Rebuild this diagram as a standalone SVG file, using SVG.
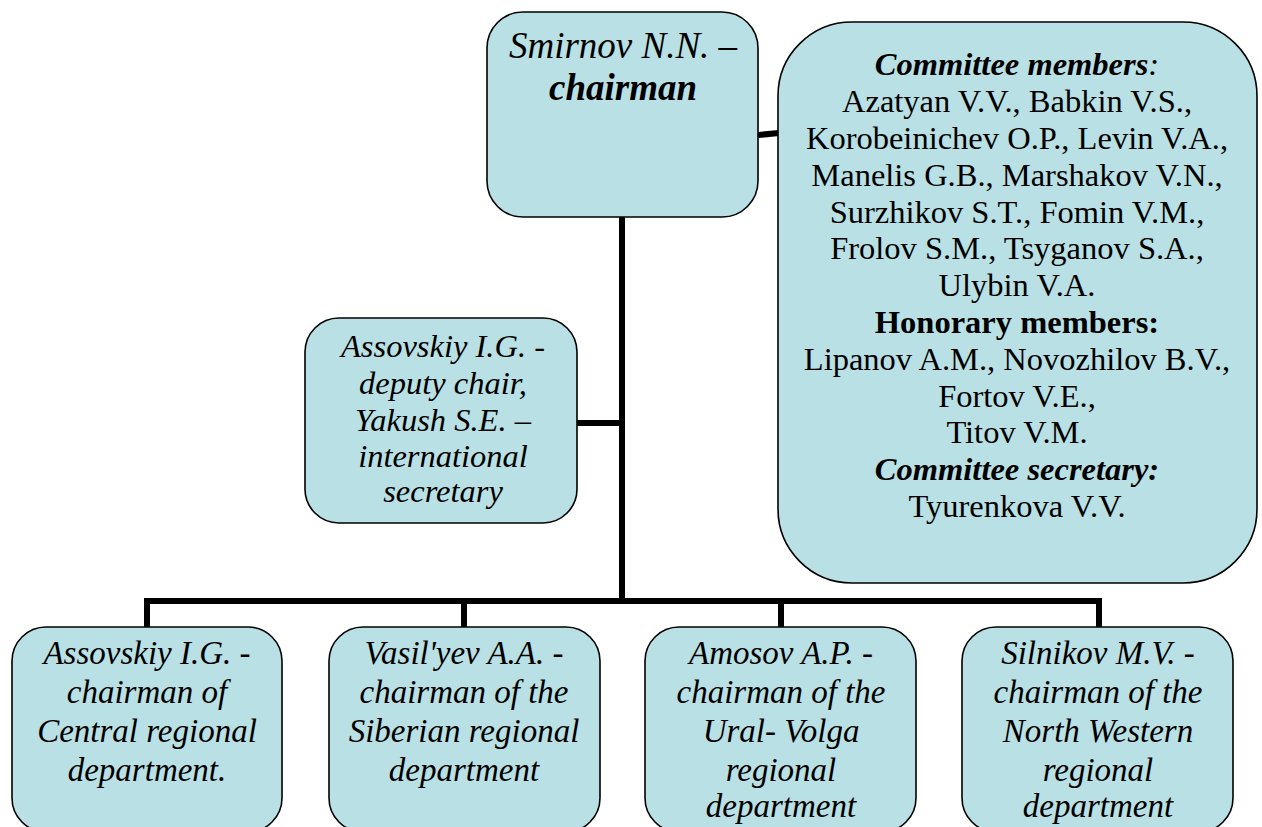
<svg xmlns="http://www.w3.org/2000/svg" width="1262" height="827" viewBox="0 0 1262 827">
<style>
.box{fill:#b9e0e4;stroke:#000;stroke-width:1.6}
.t{font-family:"Liberation Serif","Times New Roman",serif;fill:#000;text-anchor:middle}
.i{font-style:italic}
.b{font-weight:bold}
.c{stroke:#000;stroke-width:6;fill:none}
</style>
<rect width="1262" height="827" fill="#fff"/>
<g id="connectors">
<line class="c" x1="622" y1="216" x2="622" y2="604"/>
<line class="c" x1="577" y1="423" x2="622" y2="423"/>
<line class="c" x1="758" y1="135" x2="779" y2="133"/>
<polyline class="c" points="147,627 147,601 1099,601 1099,627"/>
<line class="c" x1="464" y1="601" x2="464" y2="627"/>
<line class="c" x1="781" y1="601" x2="781" y2="627"/>
</g>
<g id="chairman">
<rect class="box" x="487" y="12" width="271" height="205" rx="36"/>
<text class="t i" font-size="37" x="623" y="58">Smirnov N.N. –</text>
<text class="t i b" font-size="37" x="623" y="100">chairman</text>
</g>
<g id="committee">
<rect class="box" x="778" y="22" width="479" height="561" rx="74"/>
<g class="t" font-size="32.5">
<text class="i b" x="1017" y="75">Committee members<tspan font-weight="normal">:</tspan></text>
<text x="1017" y="112">Azatyan V.V., Babkin V.S.,</text>
<text x="1017" y="149">Korobeinichev O.P., Levin V.A.,</text>
<text x="1017" y="186">Manelis G.B., Marshakov V.N.,</text>
<text x="1017" y="223">Surzhikov S.T., Fomin V.M.,</text>
<text x="1017" y="259">Frolov S.M., Tsyganov S.A.,</text>
<text x="1017" y="296">Ulybin V.A.</text>
<text class="b" x="1017" y="333">Honorary members:</text>
<text x="1017" y="370">Lipanov A.M., Novozhilov B.V.,</text>
<text x="1017" y="407">Fortov V.E.,</text>
<text x="1017" y="443">Titov V.M.</text>
<text class="i b" x="1017" y="480">Committee secretary:</text>
<text x="1017" y="517">Tyurenkova V.V.</text>
</g>
</g>
<g id="deputy">
<rect class="box" x="305" y="318" width="272" height="205" rx="34"/>
<g class="t i" font-size="32.5">
<text x="443" y="357">Assovskiy I.G. -</text>
<text x="443" y="394">deputy chair,</text>
<text x="443" y="431">Yakush S.E. –</text>
<text x="443" y="467">international</text>
<text x="443" y="502">secretary</text>
</g>
</g>
<g id="central">
<rect class="box" x="12" y="627" width="270" height="205" rx="34"/>
<g class="t i" font-size="33">
<text x="147" y="664">Assovskiy I.G. -</text>
<text x="147" y="703">chairman of</text>
<text x="147" y="742">Central regional</text>
<text x="147" y="781">department.</text>
</g>
</g>
<g id="siberian">
<rect class="box" x="329" y="627" width="271" height="205" rx="34"/>
<g class="t i" font-size="33">
<text x="464" y="664">Vasil'yev A.A. -</text>
<text x="464" y="703">chairman of the</text>
<text x="464" y="742">Siberian regional</text>
<text x="464" y="781">department</text>
</g>
</g>
<g id="uralvolga">
<rect class="box" x="645" y="627" width="271" height="205" rx="34"/>
<g class="t i" font-size="33">
<text x="781" y="664">Amosov A.P. -</text>
<text x="781" y="703">chairman of the</text>
<text x="781" y="742">Ural- Volga</text>
<text x="781" y="781">regional</text>
<text x="781" y="817">department</text>
</g>
</g>
<g id="northwestern">
<rect class="box" x="962" y="627" width="271" height="205" rx="34"/>
<g class="t i" font-size="33">
<text x="1098" y="664">Silnikov M.V. -</text>
<text x="1098" y="703">chairman of the</text>
<text x="1098" y="742">North Western</text>
<text x="1098" y="781">regional</text>
<text x="1098" y="817">department</text>
</g>
</g>
</svg>
